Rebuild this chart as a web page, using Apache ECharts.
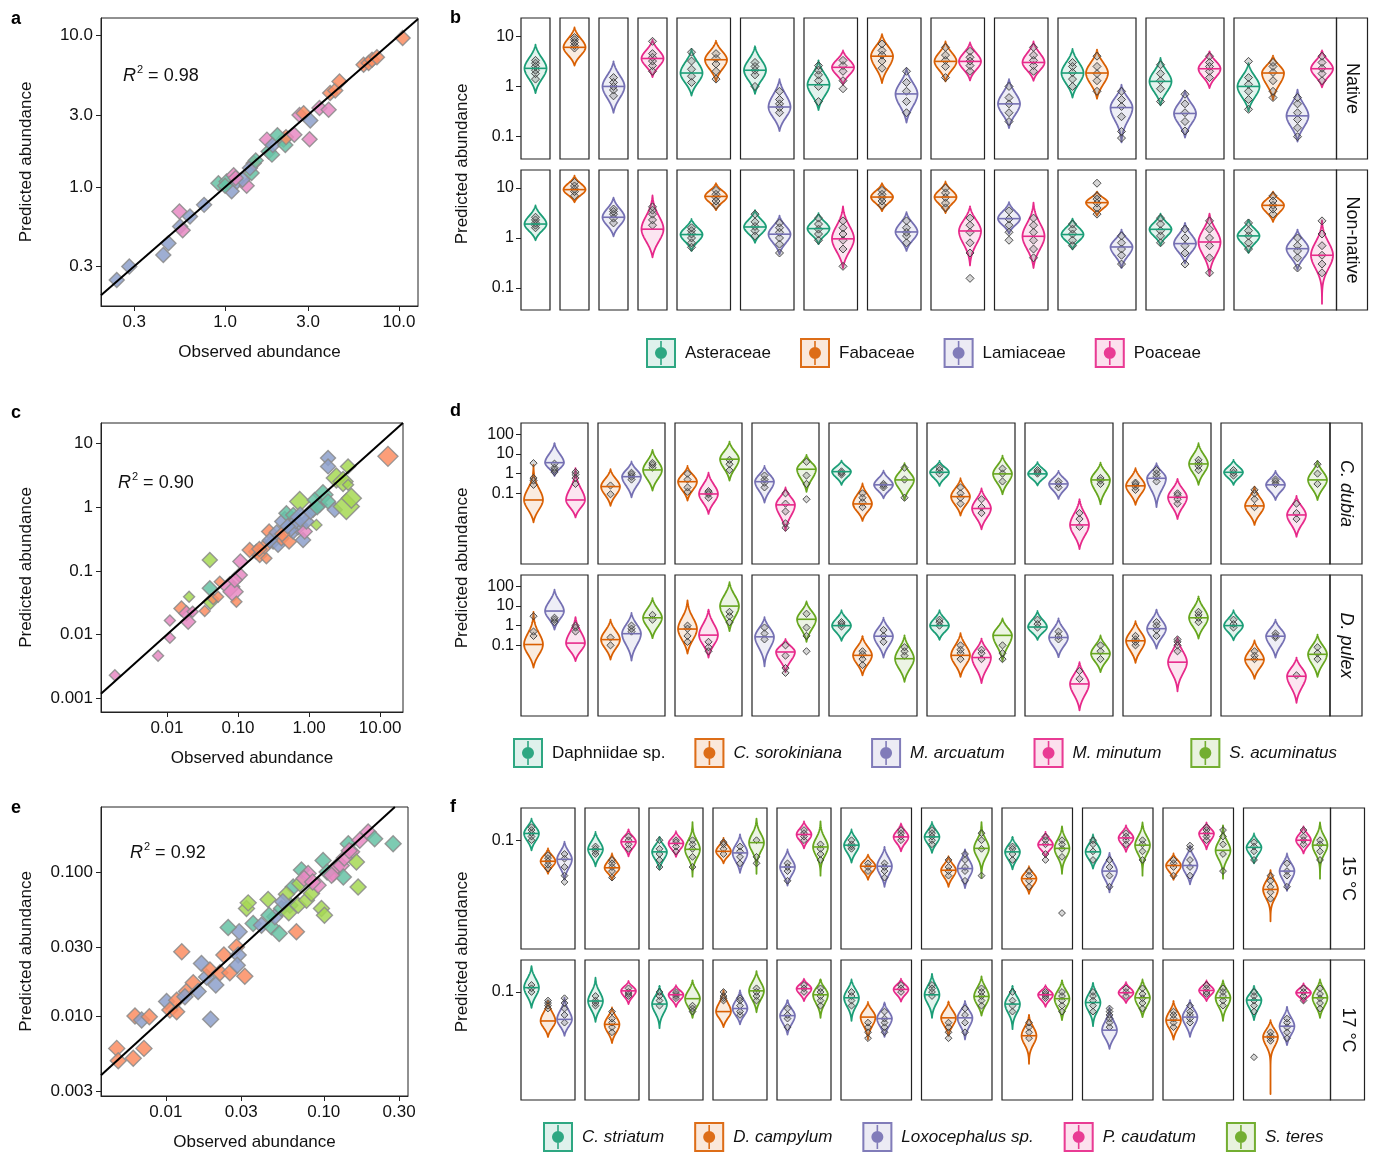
<!DOCTYPE html>
<html><head><meta charset="utf-8">
<script src="https://cdn.jsdelivr.net/npm/echarts@6/dist/echarts.min.js"></script>
<style>html,body{margin:0;padding:0;background:#fff}#chart{width:1375px;height:1153px}</style>
</head><body><div id="chart"></div>
<script>
// ---------------- DATA ----------------
const bSpecies = ['Asteraceae', 'Fabaceae', 'Lamiaceae', 'Poaceae'];
const dSpecies = ['Daphniidae sp.', 'C. sorokiniana', 'M. arcuatum', 'M. minutum', 'S. acuminatus'];
const fSpecies = ['C. striatum', 'D. campylum', 'Loxocephalus sp.', 'P. caudatum', 'S. teres'];
const italicNames = ['C. sorokiniana', 'M. arcuatum', 'M. minutum', 'S. acuminatus',
  'C. striatum', 'D. campylum', 'Loxocephalus sp.', 'P. caudatum', 'S. teres'];

// scatter a: [observed, predicted, family]
const aPoints = [[0.238,0.244,2],[0.281,0.299,2],[0.441,0.357,2],[0.472,0.427,2],[0.551,0.55,2],[0.57,0.52,3],
  [0.546,0.69,3],[0.628,0.64,2],[0.757,0.764,2],[0.915,1.06,0],[1.02,1.09,0],[1.12,1.2,3],[1.09,0.94,2],
  [1.17,1.09,2],[1.33,1.02,3],[1.26,1.12,2],[1.42,1.24,0],[1.46,1.44,1],[1.39,1.34,2],[1.74,2.06,3],
  [1.78,1.72,0],[1.86,1.64,0],[1.88,1.9,2],[2.17,2.06,0],[2.22,1.9,0],[2.24,2.14,1],[2.5,2.22,3],
  [2.68,3.0,3],[2.83,3.08,1],[3.09,2.76,2],[3.06,2.07,3],[3.49,3.33,3],[3.94,3.24,3],[4.02,4.18,1],
  [4.3,4.35,1],[4.55,4.99,1],[6.26,6.43,1],[6.69,6.6,1],[7.0,6.94,1],[7.47,7.22,1],[10.5,9.66,1],
  [1.0,1.02,0],[1.5,1.5,0],[2.0,2.2,0],[1.15,1.15,3]];
const aTicks = [0.3, 1, 3, 10];
const aLabels = ['0.3', '1.0', '3.0', '10.0'];

// scatter c: [observed, predicted, species, size class]
const cPoints = [[0.00185,0.00231,3,1],[0.0075,0.00466,3,1],[0.011,0.0089,3,1],[0.011,0.0167,3,1],[0.016,0.0258,1,2],
  [0.0188,0.0216,3,2],[0.0199,0.0159,3,2],[0.0205,0.0394,4,1],[0.023,0.0228,3,1],[0.034,0.0234,1,1],
  [0.0401,0.1486,4,2],[0.0401,0.0532,0,2],[0.041,0.0329,4,2],[0.0447,0.0362,1,1],[0.0525,0.0394,1,1],
  [0.0554,0.0678,1,1],[0.0766,0.0566,3,3],[0.0853,0.0472,3,3],[0.095,0.0329,1,1],[0.106,0.0863,3,2],
  [0.108,0.14,3,2],[0.09,0.072,3,2],[0.181,0.2,1,2],[0.202,0.178,1,2],[0.238,0.241,1,2],[0.251,0.158,1,1],
  [0.274,0.414,1,2],[0.312,0.288,2,2],[0.366,0.256,2,2],[0.408,0.326,1,2],[0.455,0.595,2,3],[0.48,0.805,0,2],
  [0.523,0.288,1,2],[0.596,0.414,2,2],[0.7,0.527,2,3],[0.739,1.23,4,3],[0.824,0.306,2,2],[0.869,0.414,3,2],
  [0.917,0.595,2,2],[1.14,0.908,0,2],[1.27,0.527,4,1],[1.41,1.09,2,2],[1.57,1.56,0,3],[1.85,1.23,0,2],
  [1.85,5.89,2,2],[1.85,4.36,2,2],[2.3,0.908,2,2],[2.42,2.86,4,3],[3.01,2.53,4,3],[3.35,1.02,4,4],
  [3.54,4.36,4,2],[3.54,2.24,4,1],[3.94,1.38,4,3],[12.9,6.26,1,3],[0.146,0.213,1,2],[0.6,0.75,0,2],
  [1.2,1.3,0,2],[0.35,0.4,2,2],[0.55,0.45,2,2],[0.28,0.3,2,2],[0.42,0.38,1,2],[0.65,0.6,2,2],
  [0.75,0.7,2,3],[1.05,0.85,2,2],[1.3,1.0,0,2],[0.2,0.22,1,2],[0.5,0.5,2,2]];
const cTicksX = [0.01, 0.1, 1, 10];
const cLabelsX = ['0.01', '0.10', '1.00', '10.00'];
const cTicksY = [0.001, 0.01, 0.1, 1, 10];
const cLabelsY = ['0.001', '0.01', '0.1', '1', '10'];

// scatter e: [observed, predicted, species]
const ePoints = [[0.00488,0.00597,1],[0.00499,0.0049,1],[0.00621,0.00509,1],[0.00637,0.01,1],[0.00702,0.00938,2],
  [0.00726,0.00597,1],[0.00785,0.00989,1],[0.0101,0.0126,2],[0.0106,0.011,1],[0.0117,0.0107,1],[0.0117,0.0129,1],
  [0.0126,0.0279,1],[0.0135,0.0148,1],[0.0132,0.0136,2],[0.0149,0.017,1],[0.016,0.0148,2],[0.0168,0.0232,2],
  [0.0181,0.0187,2],[0.019,0.0209,1],[0.0192,0.0095,2],[0.0207,0.0164,2],[0.022,0.02,1],[0.0233,0.0265,1],
  [0.0254,0.02,1],[0.028,0.0302,1],[0.0287,0.0265,2],[0.0283,0.0225,2],[0.0291,0.0384,2],[0.0316,0.0189,1],
  [0.0248,0.0411,0],[0.0324,0.0557,4],[0.0332,0.061,4],[0.0357,0.0438,0],[0.0403,0.0427,2],[0.0444,0.0643,4],
  [0.0466,0.0416,0],[0.049,0.0488,2],[0.0522,0.0374,0],[0.054,0.0557,0],[0.061,0.0587,0],[0.064,0.0787,0],
  [0.0671,0.0384,1],[0.0688,0.0587,4],[0.0705,0.083,4],[0.0722,0.103,0],[0.0777,0.0637,4],[0.0796,0.0974,3],
  [0.0836,0.0708,4],[0.092,0.0809,3],[0.0967,0.0557,4],[0.101,0.0501,4],[0.099,0.12,0],[0.115,0.0974,3],
  [0.12,0.108,3],[0.129,0.111,3],[0.133,0.0923,0],[0.143,0.157,0],[0.15,0.138,3],[0.161,0.117,4],
  [0.165,0.0787,4],[0.169,0.166,3],[0.191,0.189,3],[0.21,0.17,0],[0.275,0.157,0],[0.058,0.07,4],
  [0.075,0.09,3],[0.085,0.085,3],[0.105,0.1,0],[0.112,0.095,3],[0.06,0.052,4],[0.055,0.062,2],
  [0.045,0.05,0],[0.135,0.125,3],[0.145,0.14,3]];
const eTicksX = [0.01, 0.03, 0.1, 0.3];
const eLabelsX = ['0.01', '0.03', '0.10', '0.30'];
const eTicksY = [0.003, 0.01, 0.03, 0.1];
const eLabelsY = ['0.003', '0.010', '0.030', '0.100'];

// violins: each facet = list of [species, low tip, median, high tip, [points]]
const bNative = [
  [[0,0.74,2.29,6.8,[1.4,1.8,2.1,2.5,2.9,3.3]]],
  [[1,2.6,6.0,15,[5.8,6.5,7.5,8.5,9.4]]],
  [[2,0.30,1.0,3.15,[0.65,0.85,1.0,1.2,1.5]]],
  [[3,1.54,3.6,8.5,[2.0,2.6,3.2,3.8,4.5,7.9]]],
  [[0,0.66,1.85,5.6,[1.2,1.6,2.2,3.2,4.8]],[1,1.26,3.4,8.1,[1.4,2.0,2.8,3.6,4.5]]],
  [[0,0.71,2.1,6.3,[1.0,1.7,2.1,2.5,3.0]],[2,0.13,0.39,1.4,[0.3,0.38,0.45,0.55,0.8]]],
  [[0,0.34,1.08,3.3,[0.5,1.0,1.3,1.7,2.1,2.6]],[3,1.08,2.4,5.2,[0.9,1.3,2.0,2.6,3.3]]],
  [[1,1.17,4.0,11,[2.3,3.2,4.2,5.2,7.0]],[2,0.19,0.71,2.3,[0.3,0.5,0.8,1.2,2.0]]],
  [[1,1.26,3.15,7.9,[1.5,2.5,3.3,4.2,6.0]],[3,1.32,3.15,7.5,[2.0,2.6,3.2,3.8,5.0]]],
  [[2,0.148,0.45,1.4,[0.2,0.3,0.45,0.6,1.0]],[3,1.3,3.0,7.9,[2.0,2.6,3.3,4.2,6.0]]],
  [[0,0.6,1.85,5.6,[1.0,1.4,1.9,2.5,3.0]],[1,0.57,1.85,5.4,[0.8,1.3,1.8,2.5,4.0]],[2,0.077,0.38,1.08,[0.094,0.127,0.25,0.4,0.55,0.8]]],
  [[0,0.42,1.26,3.7,[0.5,0.9,1.3,1.8,2.7]],[2,0.096,0.29,0.83,[0.13,0.2,0.3,0.45,0.7]],[3,0.93,2.25,5.0,[1.5,2.0,2.5,3.0,4.0]]],
  [[0,0.32,1.0,2.9,[0.35,0.55,0.8,1.1,1.5,3.15]],[1,0.54,1.85,4.1,[0.6,0.8,1.3,1.9,2.5,3.0]],[2,0.08,0.26,0.86,[0.1,0.15,0.22,0.3,0.45,0.6]],[3,0.96,2.25,5.2,[1.3,1.8,2.3,3.0,4.0]]]
];
const bNonNative = [
  [[0,0.9,1.9,4.5,[1.6,1.8,2.0,2.3,2.6]]],
  [[1,5.2,9.3,17.7,[7,8.5,9.5,11,13]]],
  [[2,1.08,2.6,6.4,[2.0,2.5,3.0,3.4,3.8]]],
  [[3,0.41,1.5,7.1,[1.8,2.3,3.0,3.6,4.2]]],
  [[0,0.55,1.17,2.4,[0.65,0.8,1.0,1.2,1.4,1.6]],[1,3.6,6.8,12.5,[4.5,5.5,6.5,7.5,9]]],
  [[0,0.8,1.66,3.6,[1.1,1.4,1.7,2.1,3.0]],[2,0.47,1.19,2.8,[0.5,0.75,1.0,1.3,1.6,2.0]]],
  [[0,0.75,1.54,3.15,[0.9,1.2,1.5,1.9,2.5]],[3,0.25,0.96,4.3,[0.27,0.6,0.9,1.2,1.6,2.2]]],
  [[1,3.45,6.6,12.5,[4.5,5.5,6.5,7.5,9]],[2,0.55,1.32,3.3,[0.8,1.1,1.3,1.6,2.2]]],
  [[1,3.15,6.6,13.5,[4,5,6.5,8,10]],[3,0.28,1.38,4.3,[0.155,0.5,0.8,1.3,1.8,2.5]]],
  [[2,1.22,2.44,5.2,[0.9,1.3,1.8,2.4,3.5]],[3,0.25,1.08,5.1,[0.4,0.6,0.9,1.3,1.8,2.5]]],
  [[0,0.59,1.17,2.44,[0.7,0.9,1.2,1.5,1.9]],[1,2.8,5.1,8.5,[3,4,5,6,7,12.5]],[2,0.25,0.66,1.47,[0.3,0.45,0.6,0.8,1.1]]],
  [[0,0.71,1.49,3.06,[0.8,1.1,1.4,1.9,2.5]],[2,0.31,0.77,2.0,[0.3,0.5,0.7,1.0,1.5]],[3,0.175,0.83,3.06,[0.2,0.4,0.7,1.0,1.5,2.2]]],
  [[0,0.5,1.1,2.3,[0.6,0.8,1.1,1.4,2.0]],[1,2.1,4.5,8.5,[3,3.8,4.5,5.5,7]],[2,0.23,0.61,1.47,[0.25,0.4,0.55,0.7,1.0]],[3,0.048,0.45,2.25,[0.2,0.3,0.45,0.7,1.2,2.2]]]
];
const dDubia = [
  [[1,0.0034,0.046,2.8,[0.27,0.45,0.6,3.4]],[2,0.76,3.6,35,[1.2,1.6,2.0,3.2]],[3,0.006,0.046,1.9,[0.3,0.6,0.9,1.2]]],
  [[1,0.023,0.22,1.67,[0.09,0.25]],[2,0.063,0.7,4.1,[0.5,0.7,0.9,1.1]],[4,0.137,1.54,16,[2.0,2.8,3.5]]],
  [[1,0.043,0.39,2.46,[0.12,0.2,0.5,1.0]],[3,0.009,0.093,1.12,[0.06,0.09,0.11,0.13]],[4,0.44,5.4,42,[1.5,3.0,5.0]]],
  [[2,0.034,0.39,2.46,[0.2,0.35,0.5,0.8]],[3,0.0013,0.026,0.2,[0.0018,0.003,0.012,0.03,0.1]],[4,0.12,1.67,8.9,[0.05,0.3,0.8,4.0]]],
  [[0,0.27,1.26,4.6,[0.9,1.1,1.3]],[1,0.004,0.029,0.32,[0.02,0.035,0.06,0.1]],[2,0.056,0.27,1.42,[0.2,0.25,0.3]],[4,0.046,0.48,3.4,[0.06,0.5,2.0]]],
  [[0,0.24,1.17,4.4,[1.0,1.5,2.0]],[1,0.0074,0.068,0.58,[0.03,0.06,0.1,0.2]],[3,0.0015,0.017,0.18,[0.01,0.02,0.05]],[4,0.09,0.97,8.2,[0.4,1.0,1.8]]],
  [[0,0.25,0.97,3.8,[1.0,1.2,1.5]],[2,0.052,0.3,1.37,[0.2,0.3,0.4]],[3,0.00015,0.0025,0.05,[0.002,0.005,0.01]],[4,0.028,0.48,3.6,[0.3,0.45,0.6]]],
  [[1,0.026,0.24,1.88,[0.15,0.22,0.3,0.35]],[2,0.02,0.58,3.36,[0.4,0.7,1.0,1.5]],[3,0.005,0.063,0.54,[0.03,0.05,0.08,0.1]],[4,0.27,3.1,35,[1.5,2.5,3.5,5.0]]],
  [[0,0.27,1.17,5,[0.8,1.1,1.5]],[1,0.0025,0.023,0.22,[0.02,0.05,0.1,0.15]],[2,0.046,0.27,1.37,[0.3,0.4,0.5]],[3,0.00063,0.008,0.074,[0.005,0.01,0.03]],[4,0.046,0.48,4.4,[0.3,1.0,3.0]]]
];
const dPulex = [
  [[1,0.0074,0.11,4.9,[0.3,0.5,3.0]],[2,0.63,5.5,67,[1.5,2.0,2.5]],[3,0.016,0.13,2.7,[0.5,0.8,1.0]]],
  [[1,0.019,0.195,2.0,[0.1,0.25]],[2,0.017,0.39,4.4,[0.5,0.7,1.0]],[4,0.23,2.5,25,[2.0,3.5]]],
  [[1,0.038,0.67,19,[0.15,0.3,0.7,1.0]],[3,0.024,0.33,6.5,[0.05,0.08,0.15]],[4,0.53,9.8,160,[1.5,3.0,5.0]]],
  [[2,0.0086,0.27,2.7,[0.2,0.4,0.8]],[3,0.0044,0.046,0.21,[0.004,0.007,0.03,0.1]],[4,0.15,2.1,17,[0.05,0.3,0.8,4.0]]],
  [[0,0.17,1.0,6,[0.9,1.2,1.5]],[1,0.003,0.031,0.29,[0.01,0.02,0.035,0.05]],[2,0.024,0.29,2.5,[0.15,0.3,0.6]],[4,0.0014,0.021,0.32,[0.03,0.05,0.08]]],
  [[0,0.19,1.0,6,[1.0,1.5,2.0]],[1,0.0025,0.031,0.42,[0.02,0.04,0.06,0.1]],[3,0.0012,0.024,0.22,[0.02,0.04,0.06]],[4,0.016,0.32,2.3,[0.02,0.04,0.1]]],
  [[0,0.19,0.85,5.5,[0.8,1.2,2.0]],[2,0.025,0.25,2.3,[0.2,0.3,0.5]],[3,0.00005,0.0011,0.014,[0.002,0.005]],[4,0.0044,0.038,0.32,[0.02,0.05,0.1]]],
  [[1,0.013,0.17,1.7,[0.1,0.15,0.2,0.3]],[2,0.068,0.7,6.5,[0.3,0.6,1.0,1.5]],[3,0.00046,0.014,0.25,[0.05,0.1,0.15,0.2]],[4,0.22,2.5,30,[1.5,2.5,3.5,5.0]]],
  [[0,0.18,1.0,6,[0.8,1.2,2.0]],[1,0.002,0.019,0.18,[0.02,0.03,0.05]],[2,0.024,0.29,2.0,[0.25,0.3,0.4]],[3,0.00012,0.0027,0.024,[0.003]],[4,0.0025,0.035,0.35,[0.02,0.04,0.08]]]
];
const f15 = [
  [[0,0.077,0.119,0.175,[0.1,0.11,0.12,0.13,0.14]],[1,0.042,0.058,0.081,[0.048,0.053,0.058,0.063,0.068]],[2,0.036,0.061,0.096,[0.034,0.04,0.05,0.062,0.07]]],
  [[0,0.051,0.079,0.124,[0.07,0.075,0.08,0.085]],[1,0.036,0.049,0.071,[0.038,0.045,0.05,0.055,0.06]],[3,0.066,0.096,0.132,[0.08,0.09,0.1,0.11]]],
  [[0,0.047,0.074,0.109,[0.05,0.06,0.07,0.08,0.1]],[3,0.065,0.092,0.126,[0.075,0.085,0.095,0.1]],[4,0.039,0.079,0.16,[0.05,0.065,0.08,0.09,0.1]]],
  [[1,0.055,0.075,0.106,[0.07,0.08,0.09,0.095]],[2,0.043,0.072,0.116,[0.055,0.065,0.075,0.085]],[4,0.042,0.094,0.175,[0.055,0.065,0.1]]],
  [[2,0.031,0.05,0.079,[0.035,0.045,0.05,0.055]],[3,0.081,0.116,0.163,[0.1,0.11,0.12,0.13]],[4,0.04,0.084,0.163,[0.06,0.07,0.08,0.09]]],
  [[0,0.056,0.088,0.132,[0.08,0.085,0.09,0.1]],[1,0.036,0.051,0.069,[0.045,0.05,0.055]],[2,0.03,0.051,0.084,[0.038,0.045,0.05,0.055]],[3,0.075,0.109,0.154,[0.1,0.11,0.12,0.13]]],
  [[0,0.072,0.109,0.16,[0.09,0.1,0.11,0.12,0.13]],[1,0.03,0.046,0.066,[0.04,0.045,0.05,0.06]],[2,0.029,0.048,0.079,[0.035,0.045,0.05,0.06,0.07]],[4,0.038,0.081,0.16,[0.04,0.08,0.1,0.12]]],
  [[0,0.047,0.074,0.109,[0.06,0.07,0.08,0.085]],[1,0.025,0.037,0.051,[0.03,0.035,0.04,0.045]],[3,0.065,0.089,0.124,[0.06,0.07,0.09,0.1,0.11]],[4,0.042,0.081,0.143,[0.0152,0.065,0.08,0.09,0.1]]],
  [[0,0.048,0.074,0.116,[0.06,0.075,0.09,0.1]],[2,0.026,0.045,0.072,[0.03,0.04,0.05,0.06]],[3,0.074,0.106,0.147,[0.09,0.1,0.11,0.12]],[4,0.04,0.088,0.158,[0.06,0.075,0.09,0.1]]],
  [[1,0.036,0.052,0.071,[0.04,0.05,0.055,0.06]],[2,0.032,0.052,0.086,[0.04,0.05,0.06,0.08,0.087]],[3,0.079,0.119,0.158,[0.1,0.11,0.12,0.13,0.14]],[4,0.037,0.077,0.147,[0.045,0.07,0.09,0.11,0.13]]],
  [[0,0.055,0.083,0.119,[0.06,0.075,0.085,0.095]],[1,0.0123,0.028,0.046,[0.022,0.026,0.03,0.035,0.04]],[2,0.027,0.045,0.071,[0.03,0.04,0.045,0.055]],[3,0.071,0.1,0.143,[0.09,0.1,0.11,0.13]],[4,0.037,0.088,0.158,[0.06,0.075,0.09,0.1]]]
];
const f17 = [
  [[0,0.066,0.112,0.196,[0.1,0.11,0.12]],[1,0.031,0.047,0.079,[0.065,0.07,0.075,0.08]],[2,0.032,0.049,0.086,[0.045,0.055,0.065,0.075,0.085]]],
  [[0,0.046,0.079,0.145,[0.07,0.075,0.08,0.09]],[1,0.0265,0.043,0.067,[0.035,0.04,0.045,0.05,0.06]],[3,0.073,0.103,0.133,[0.09,0.095,0.1,0.11]]],
  [[0,0.039,0.073,0.117,[0.07,0.08,0.09,0.1]],[3,0.068,0.093,0.119,[0.085,0.09,0.095,0.1]],[4,0.051,0.084,0.135,[0.06,0.065,0.07]]],
  [[1,0.04,0.06,0.104,[0.08,0.085,0.09,0.1]],[2,0.043,0.065,0.104,[0.055,0.06,0.07,0.08,0.085]],[4,0.059,0.103,0.172,[0.08,0.09,0.1,0.11]]],
  [[2,0.033,0.054,0.081,[0.04,0.05,0.055,0.065]],[3,0.079,0.109,0.141,[0.1,0.11,0.12]],[4,0.051,0.093,0.139,[0.07,0.08,0.09,0.1,0.11]]],
  [[0,0.047,0.086,0.139,[0.07,0.08,0.09,0.1]],[1,0.029,0.052,0.077,[0.03,0.035,0.04,0.045]],[2,0.031,0.05,0.076,[0.035,0.04,0.045,0.05,0.06]],[3,0.078,0.107,0.141,[0.1,0.11,0.12]]],
  [[0,0.051,0.093,0.16,[0.09,0.1,0.11,0.12]],[1,0.032,0.051,0.078,[0.03,0.035,0.04,0.045]],[2,0.029,0.051,0.079,[0.035,0.045,0.055,0.065]],[4,0.054,0.089,0.15,[0.07,0.08,0.09,0.1,0.11]]],
  [[0,0.038,0.073,0.117,[0.06,0.07,0.08,0.1]],[1,0.0154,0.032,0.055,[0.03,0.035,0.04,0.045]],[3,0.068,0.093,0.119,[0.085,0.09,0.095,0.1]],[4,0.048,0.084,0.135,[0.06,0.07,0.08,0.09,0.1]]],
  [[0,0.041,0.076,0.127,[0.06,0.07,0.08,0.09,0.1]],[2,0.0227,0.037,0.067,[0.04,0.045,0.05,0.055,0.06,0.065]],[3,0.075,0.098,0.129,[0.09,0.1,0.11]],[4,0.052,0.086,0.139,[0.065,0.075,0.085,0.095,0.11]]],
  [[1,0.029,0.048,0.079,[0.04,0.045,0.05,0.055,0.06]],[2,0.031,0.052,0.081,[0.045,0.05,0.055,0.06,0.07]],[3,0.079,0.104,0.135,[0.095,0.1,0.11,0.12]],[4,0.047,0.086,0.135,[0.07,0.08,0.09,0.1,0.11]]],
  [[0,0.048,0.081,0.117,[0.0183,0.06,0.07,0.08,0.09,0.1]],[1,0.007,0.031,0.048,[0.028,0.03,0.032,0.035]],[2,0.025,0.041,0.068,[0.03,0.035,0.04,0.045,0.05]],[3,0.076,0.098,0.125,[0.08,0.09,0.1,0.11]],[4,0.051,0.086,0.139,[0.065,0.075,0.085,0.095,0.11]]]
];
const bTicks = [0.1, 1, 10], bTickLabels = ['0.1', '1', '10'];
const dTicks = [0.1, 1, 10, 100], dTickLabels = ['0.1', '1', '10', '100'];
const fTicks = [0.1], fTickLabels = ['0.1'];

// ---------------- STYLE / BUILD ----------------
const FONT = '"Liberation Sans", Arial, Helvetica, sans-serif';
const DARK2 = ['#1b9e77', '#d95f02', '#7570b3', '#e7298a', '#66a61e'];
const SET2 = ['#66c2a5', '#fc8d62', '#8da0cb', '#e78ac3', '#a6d854'];
const INK = '#111';

function rgba(hex, a) {
  const n = parseInt(hex.slice(1), 16);
  return 'rgba(' + (n >> 16) + ',' + ((n >> 8) & 255) + ',' + (n & 255) + ',' + a + ')';
}
function logLabel(ticks, labels) {
  return function (v) {
    for (let i = 0; i < ticks.length; i++) {
      if (Math.abs(Math.log10(v) - Math.log10(ticks[i])) < 1e-6) return labels[i];
    }
    return '';
  };
}

const grid = [], xAxis = [], yAxis = [], series = [], graphic = [], legend = [];

function addScatter(cfg) {
  const gi = grid.length;
  grid.push({ left: cfg.box[0], top: cfg.box[1], width: cfg.box[2], height: cfg.box[3],
    show: true, borderColor: '#222', borderWidth: 1, backgroundColor: 'transparent' });
  const lab = { fontSize: 17, fontFamily: FONT, color: INK };
  xAxis.push({ type: 'log', logBase: 10, gridIndex: gi, min: cfg.x[0], max: cfg.x[1],
    name: 'Observed abundance', nameLocation: 'middle', nameGap: 38, nameTextStyle: lab,
    axisLine: { show: true, onZero: false, lineStyle: { color: '#222' } },
    axisTick: { show: true, customValues: cfg.xt, length: 5, lineStyle: { color: '#222' } },
    axisLabel: Object.assign({ customValues: cfg.xt, formatter: logLabel(cfg.xt, cfg.xl), margin: 8 }, lab),
    splitLine: { show: false }, minorTick: { show: false } });
  yAxis.push({ type: 'log', logBase: 10, gridIndex: gi, min: cfg.y[0], max: cfg.y[1],
    name: 'Predicted abundance', nameLocation: 'middle', nameGap: cfg.nameGap, nameTextStyle: lab,
    axisLine: { show: true, onZero: false, lineStyle: { color: '#222' } },
    axisTick: { show: true, customValues: cfg.yt, length: 5, lineStyle: { color: '#222' } },
    axisLabel: Object.assign({ customValues: cfg.yt, formatter: logLabel(cfg.yt, cfg.yl), margin: 8 }, lab),
    splitLine: { show: false }, minorTick: { show: false } });
  series.push({ type: 'scatter', xAxisIndex: gi, yAxisIndex: gi, symbol: 'diamond', silent: true,
    symbolSize: cfg.size, data: cfg.points,
    itemStyle: { color: p => SET2[p.value[2]], opacity: 0.85, borderColor: '#8a8a8a', borderWidth: 1.4 },
    z: 2 });
  const lo = Math.max(cfg.x[0], cfg.y[0]), hi = Math.min(cfg.x[1], cfg.y[1]);
  series.push({ type: 'line', xAxisIndex: gi, yAxisIndex: gi, data: [[lo, lo], [hi, hi]], symbol: 'none',
    silent: true, lineStyle: { color: '#000', width: 2 }, z: 3 });
  graphic.push({ type: 'text', x: cfg.r2pos[0], y: cfg.r2pos[1], z: 10,
    style: { text: '{i|R}{s|2}{n| = ' + cfg.r2 + '}', align: 'left', verticalAlign: 'middle',
      textAlign: 'left', textVerticalAlign: 'middle',
      rich: { i: { fontStyle: 'italic', fontSize: 18, fontFamily: FONT, fill: INK, color: INK, lineHeight: 24 },
              s: { fontSize: 11, fontFamily: FONT, fill: INK, color: INK, lineHeight: 24, verticalAlign: 'top', padding: [0, 0, 0, 1] },
              n: { fontSize: 18, fontFamily: FONT, fill: INK, color: INK, lineHeight: 24 } } } });
}

function violinRenderer(color, slot, ptsList, ptR) {
  return function (params, api) {
    const xc = api.value(0), lo = api.value(1), md = api.value(2), hi = api.value(3);
    const pm = api.coord([xc, md]);
    const cx = pm[0], yMd = pm[1];
    const yHi = api.coord([xc, hi])[1], yLo = api.coord([xc, lo])[1];
    const slotPx = api.coord([xc + slot, md])[0] - cx;
    const W = slotPx * 0.45;
    const N = 30;
    const wf = (d, L) => {
      if (L < 0.5) return 0;
      const s = Math.min(L, 1.2 * slotPx) * 0.62;
      const e = Math.exp(-(L / s) * (L / s));
      return W * Math.max(0, Math.exp(-(d / s) * (d / s)) - e * d / L);
    };
    const Lu = yMd - yHi, Ll = yLo - yMd;
    const prof = [];
    for (let i = 0; i <= N; i++) { const d = Lu * (1 - i / N); prof.push([yMd - d, wf(d, Lu)]); }
    for (let i = 1; i <= N; i++) { const d = Ll * i / N; prof.push([yMd + d, wf(d, Ll)]); }
    const pts = prof.map(p => [cx + p[1], p[0]]).concat(prof.slice().reverse().map(p => [cx - p[1], p[0]]));
    const children = [{ type: 'polygon', shape: { points: pts },
      style: { fill: rgba(color, 0.12), stroke: color, lineWidth: 1.8, lineJoin: 'round' } }];
    ptsList[params.dataIndex].forEach(v => {
      const py = api.coord([xc, v])[1];
      children.push({ type: 'polygon', shape: { points: [[cx, py - ptR], [cx + ptR, py], [cx, py + ptR], [cx - ptR, py]] },
        style: { fill: 'rgba(110,110,110,0.28)', stroke: '#3c3c3c', lineWidth: 0.9 } });
    });
    children.push({ type: 'line', shape: { x1: cx - W, y1: yMd, x2: cx + W, y2: yMd },
      style: { stroke: color, lineWidth: 1.6 } });
    return { type: 'group', children: children };
  };
}

function addFacetRow(cfg) {
  const gi = grid.length;
  let x = 0;
  const boxes = [], items = cfg.species.map(() => []);
  cfg.facets.forEach(f => {
    const wdt = f.length * cfg.slot + cfg.pad;
    boxes.push([x, x + wdt]);
    f.forEach((v, j) => items[v[0]].push({ xc: x + cfg.pad / 2 + (j + 0.5) * cfg.slot, v: v }));
    x += wdt + cfg.gap;
  });
  const total = x - cfg.gap;
  grid.push({ left: cfg.left, top: cfg.top, width: total, height: cfg.height, show: false });
  xAxis.push({ type: 'value', gridIndex: gi, min: 0, max: total, show: false });
  yAxis.push({ type: 'log', logBase: 10, gridIndex: gi, min: cfg.y[0], max: cfg.y[1],
    axisLine: { show: false },
    axisTick: { show: true, customValues: cfg.ticks, length: 5, lineStyle: { color: '#222' } },
    axisLabel: { customValues: cfg.ticks, formatter: logLabel(cfg.ticks, cfg.labels), fontSize: 16,
      fontFamily: FONT, color: INK, margin: 7 },
    splitLine: { show: false }, minorTick: { show: false } });
  series.push({ type: 'custom', xAxisIndex: gi, yAxisIndex: gi, silent: true, clip: false,
    encode: { x: [0, 1] }, data: boxes, z: 1,
    renderItem: (params, api) => {
      const cs = params.coordSys;
      const x0 = api.coord([api.value(0), cfg.y[0]])[0], x1 = api.coord([api.value(1), cfg.y[0]])[0];
      return { type: 'rect', shape: { x: x0, y: cs.y, width: x1 - x0, height: cs.height },
        style: { fill: 'none', stroke: '#222', lineWidth: 1.2 } };
    } });
  series.push({ type: 'custom', xAxisIndex: gi, yAxisIndex: gi, silent: true, clip: false,
    encode: { x: 0 }, data: [[total]], z: 1,
    renderItem: (params, api) => {
      const cs = params.coordSys;
      const x0 = api.coord([api.value(0), cfg.y[0]])[0];
      return { type: 'group', children: [
        { type: 'rect', shape: { x: x0, y: cs.y, width: cfg.stripW, height: cs.height },
          style: { fill: 'none', stroke: '#222', lineWidth: 1.2 } },
        { type: 'text', x: x0 + cfg.stripW / 2, y: cs.y + cs.height / 2, rotation: -Math.PI / 2,
          style: { text: cfg.strip, fontSize: 18, fontFamily: FONT, fontStyle: cfg.stripItalic ? 'italic' : 'normal',
            fill: INK, align: 'center', verticalAlign: 'middle' } }
      ] };
    } });
  cfg.species.forEach((name, s) => {
    if (!items[s].length) return;
    series.push({ type: 'custom', name: name, xAxisIndex: gi, yAxisIndex: gi, silent: true, clip: false,
      itemStyle: { color: DARK2[s] }, encode: { x: 0, y: [1, 2, 3] }, z: 2,
      data: items[s].map(it => [it.xc, it.v[1], it.v[2], it.v[3]]),
      renderItem: violinRenderer(DARK2[s], cfg.slot, items[s].map(it => it.v[4]), cfg.ptR) });
  });
}

const RING = 'path://M0,0H30V30H0Z M2,2V28H28V2Z M9,15A6,6,0,1,1,21,15A6,6,0,1,1,9,15Z M14.2,3H15.8V27H14.2Z';
function addLegend(names, left, top, gap) {
  const fmt = n => (italicNames.indexOf(n) >= 0 ? '{i|' + n + '}' : '{n|' + n + '}');
  const mk = (col) => ({
    i: { fontStyle: 'italic', fontSize: 17, fontFamily: FONT, color: col, padding: [0, 0, 0, 4] },
    n: { fontSize: 17, fontFamily: FONT, color: col, padding: [0, 0, 0, 4] } });
  legend.push({ left: left, top: top, padding: 0, itemWidth: 30, itemHeight: 30, itemGap: gap, selectedMode: false,
    orient: 'horizontal', z: 3, formatter: fmt, textStyle: { fontSize: 17, fontFamily: FONT, color: 'transparent', rich: mk('transparent') },
    data: names.map((n, i) => ({ name: n, icon: 'rect', itemStyle: { color: rgba(DARK2[i], 0.14), borderWidth: 0 } })) });
  legend.push({ left: left, top: top, padding: 0, itemWidth: 30, itemHeight: 30, itemGap: gap, selectedMode: false,
    orient: 'horizontal', z: 4, formatter: fmt, textStyle: { fontSize: 17, fontFamily: FONT, color: INK, rich: mk(INK) },
    data: names.map((n, i) => ({ name: n, icon: RING, itemStyle: { color: rgba(DARK2[i], 0.9), borderWidth: 0 } })) });
}

// scatter panels
addScatter({ box: [101, 18, 317, 288], x: [0.1932, 12.87], y: [0.1642, 13.09], xt: aTicks, xl: aLabels,
  yt: aTicks, yl: aLabels, points: aPoints, size: 15, nameGap: 66, r2: '0.98', r2pos: [123, 76] });
addScatter({ box: [101, 423, 302, 289], x: [0.00118, 21.0], y: [0.000611, 20.9], xt: cTicksX, xl: cLabelsX,
  yt: cTicksY, yl: cLabelsY, points: cPoints, size: v => [0, 11, 15, 20, 26][v[3]], nameGap: 66,
  r2: '0.90', r2pos: [118, 483] });
addScatter({ box: [101, 807, 307, 289], x: [0.00388, 0.3416], y: [0.00279, 0.2821], xt: eTicksX, xl: eLabelsX,
  yt: eTicksY, yl: eLabelsY, points: ePoints, size: 16, nameGap: 66, r2: '0.92', r2pos: [130, 853] });

// facet rows
const bRow = { species: bSpecies, left: 521, height: 141, slot: 24.5, pad: 4.5, gap: 10, stripW: 31,
  y: [0.036, 23], ticks: bTicks, labels: bTickLabels, ptR: 4 };
addFacetRow(Object.assign({}, bRow, { top: 18, facets: bNative, strip: 'Native' }));
addFacetRow(Object.assign({}, bRow, { top: 170, height: 140, facets: bNonNative, strip: 'Non-native' }));
const dRow = { species: dSpecies, left: 521, height: 141, slot: 21, pad: 4, gap: 10, stripW: 32,
  y: [2.6e-5, 370], ticks: dTicks, labels: dTickLabels, ptR: 3.6, stripItalic: true };
addFacetRow(Object.assign({}, dRow, { top: 423, facets: dDubia, strip: 'C. dubia' }));
addFacetRow(Object.assign({}, dRow, { top: 575, facets: dPulex, strip: 'D. pulex' }));
const fRow = { species: fSpecies, left: 521, height: 141, slot: 16.5, pad: 4.5, gap: 10, stripW: 34,
  y: [0.006, 0.23], ticks: fTicks, labels: fTickLabels, ptR: 3.4 };
addFacetRow(Object.assign({}, fRow, { top: 808, facets: f15, strip: '15 °C' }));
addFacetRow(Object.assign({}, fRow, { top: 960, height: 140, facets: f17, strip: '17 °C' }));

addLegend(bSpecies, 646, 338, 29);
addLegend(dSpecies, 513, 738, 29);
addLegend(fSpecies, 543, 1122, 30);

// panel letters and facet y titles
[['a', 11, 10], ['b', 450, 9], ['c', 11, 404], ['d', 450, 402], ['e', 11, 799], ['f', 450, 798]].forEach(l => {
  graphic.push({ type: 'text', x: l[1], y: l[2], z: 10,
    style: { text: l[0], fontSize: 18, fontWeight: 'bold', fontFamily: FONT, fill: '#000', align: 'left', verticalAlign: 'top',
      textAlign: 'left', textVerticalAlign: 'top' } });
});
[[462, 164], [462, 568], [462, 952]].forEach(p => {
  graphic.push({ type: 'text', x: p[0], y: p[1], rotation: Math.PI / 2, z: 10,
    style: { text: 'Predicted abundance', fontSize: 17, fontFamily: FONT, fill: INK, align: 'center', verticalAlign: 'middle',
      textAlign: 'center', textVerticalAlign: 'middle' } });
});

const chart = echarts.init(document.getElementById('chart'), null, { renderer: 'canvas' });
chart.setOption({ backgroundColor: '#fff', animation: false, textStyle: { fontFamily: FONT },
  grid: grid, xAxis: xAxis, yAxis: yAxis, series: series, legend: legend, graphic: graphic });
</script></body></html>
